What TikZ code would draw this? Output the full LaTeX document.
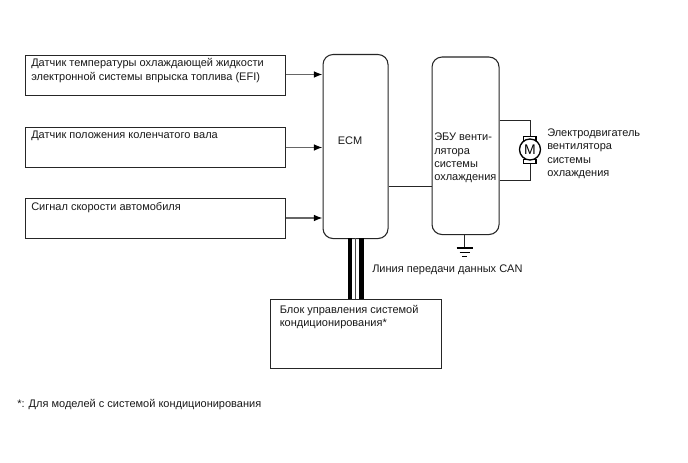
\documentclass[tikz,border=0pt]{standalone}
\usepackage{fontspec}
\setmainfont{Liberation Sans}
\usetikzlibrary{arrows.meta}
\tikzset{
  x=0.75pt,y=-0.75pt,
  box/.style={draw=black!85,line width=0.75pt,rectangle,inner sep=0,anchor=north west},
  rbox/.style={draw=black!85,line width=0.8pt,rectangle,rounded corners=7.5pt,inner sep=0,anchor=north west},
  wire/.style={draw=black!85,line width=0.75pt},
  inwire/.style={draw=black!60,line width=0.9pt,-{Latex[length=6.5pt,width=5pt,black]}},
  lbl/.style={font=\fontsize{8.25pt}{10pt}\selectfont,text=black!90,anchor=north west,inner sep=0,align=left},
}
\begin{document}
\begin{tikzpicture}
\useasboundingbox (0,0) rectangle (688,463);
\path[fill=white] (0,0) rectangle (688,463);
% boxes
\node[box,minimum width=259.5*0.75pt,minimum height=40*0.75pt] (s1) at (25.2,55.2) {};
\node[box,minimum width=259.5*0.75pt,minimum height=40*0.75pt] (s2) at (25.2,127.2) {};
\node[box,minimum width=259.5*0.75pt,minimum height=40*0.75pt] (s3) at (25.2,198.2) {};
\node[rbox,minimum width=65*0.75pt,minimum height=184*0.75pt] (ecm) at (322.5,54) {};
\node[rbox,minimum width=67*0.75pt,minimum height=177.5*0.75pt] (ebu) at (431.5,56.5) {};
\node[box,minimum width=170.5*0.75pt,minimum height=69.5*0.75pt] (ac) at (270,298.5) {};
% texts
\node[lbl] at (31,58.5) {Датчик температуры охлаждающей жидкости\\электронной системы впрыска топлива (EFI)};
\node[lbl] at (31,131) {Датчик положения коленчатого вала};
\node[lbl] at (31,202.5) {Сигнал скорости автомобиля};
\node[lbl] at (337.5,137) {ECM};
\node[lbl] at (434,133) {ЭБУ венти-\\лятора\\системы\\охлаждения};
\node[lbl] at (547,128.5) {Электродвигатель\\вентилятора\\системы\\охлаждения};
\node[lbl] at (372,264.5) {Линия передачи данных CAN};
\node[lbl] at (279.5,305) {Блок управления системой\\кондиционирования*};
\node[lbl] at (17,399) {*: Для моделей с системой кондиционирования};
% inputs
\coordinate (e1) at (ecm.west |- 0,74.5);
\coordinate (e2) at (ecm.west |- 0,147.5);
\coordinate (e3) at (ecm.west |- 0,218);
\draw[inwire] (s1.east |- e1) -- (e1);
\draw[inwire] (s2.east |- e2) -- (e2);
\draw[inwire] (s3.east |- e3) -- (e3);
% ECM - EBU
\coordinate (m) at (ecm.east |- 0,186.5);
\draw[wire] (m) -- (ebu.west |- m);
% CAN
\fill[black] (347.5,238) rectangle (351.7,298.5);
\fill[black] (359.3,238) rectangle (363.5,298.5);
\draw[black!70,line width=0.6pt] (355.5,238) -- (355.5,298.5);
% motor
\coordinate (mt) at (530,120.5);
\coordinate (mb) at (530,180.5);
\draw[wire] (ebu.east |- mt) -- (mt) -- (530,136);
\draw[wire] (ebu.east |- mb) -- (mb) -- (530,164);
\draw[line width=0.8pt,fill=white] (523.5,136.5) rectangle (536,140.5);
\draw[line width=0.8pt,fill=white] (523.5,159.5) rectangle (536,163.5);
\node[draw=black,line width=1pt,fill=white,circle,minimum size=21*0.75pt,inner sep=0,font=\fontsize{10.5pt}{10.5pt}\selectfont] (mot) at (530,149.5) {M};
% ground
\coordinate (g0) at (464.5,234);
\coordinate (g1) at (464.5,248);
\draw[wire] (g0) -- (g1);
\draw[black,line width=0.9pt] (456.5,248) -- (473,248);
\draw[black,line width=0.9pt] (459.5,252.5) -- (470,252.5);
\draw[black,line width=0.9pt] (462,256.5) -- (467,256.5);
\end{tikzpicture}
\end{document}
